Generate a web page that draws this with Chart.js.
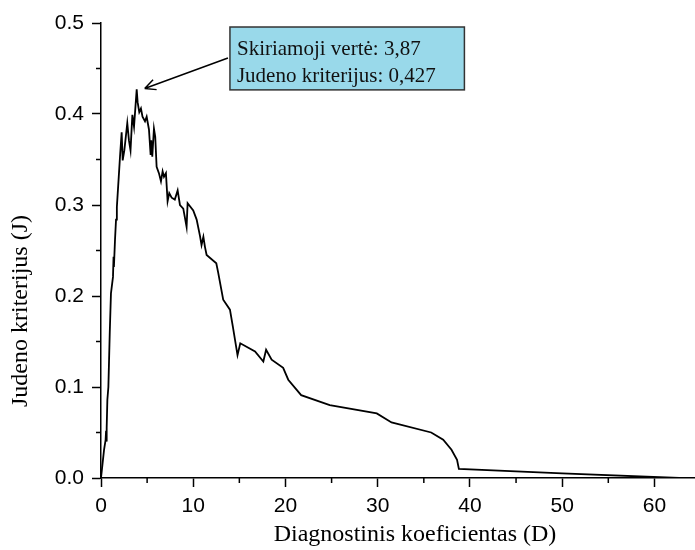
<!DOCTYPE html>
<html>
<head>
<meta charset="utf-8">
<script src="https://cdn.jsdelivr.net/npm/chart.js@4/dist/chart.umd.min.js"></script>
<style>
html,body{margin:0;padding:0;background:#fff;}
#wrap{width:695px;height:550px;position:relative;}
</style>
</head>
<body>
<div id="wrap"><canvas id="c" width="695" height="550"></canvas></div>
<script>
// ---- data ----
const dValues = [0, 0.33, 0.5, 0.55, 0.58, 0.65, 0.69, 0.8, 0.95, 1.08, 1.3, 1.36, 1.4, 1.52, 1.63, 1.72, 1.95, 2.06, 2.24, 2.35, 2.53, 2.85, 3.03, 3.2, 3.4, 3.58, 3.87, 3.97, 4.15, 4.33, 4.5, 4.77, 4.95, 5.2, 5.38, 5.45, 5.56, 5.74, 5.88, 6.03, 6.28, 6.5, 6.68, 6.83, 7.04, 7.22, 7.4, 7.66, 8.0, 8.31, 8.56, 8.92, 9.28, 9.39, 10.0, 10.37, 10.73, 10.9, 11.1, 11.27, 11.45, 12.5, 12.7, 13.25, 13.98, 14.3, 14.8, 15.1, 16.7, 17.6, 17.9, 18.5, 19.75, 20.3, 21.7, 24.8, 29.9, 31.5, 35.8, 37.1, 38.0, 38.6, 38.8, 50, 62.7, 64.4];
const jValues = [0, 0.031, 0.042, 0.052, 0.040, 0.055, 0.086, 0.100, 0.160, 0.203, 0.221, 0.243, 0.232, 0.262, 0.284, 0.298, 0.335, 0.353, 0.380, 0.349, 0.360, 0.390, 0.371, 0.360, 0.399, 0.386, 0.427, 0.413, 0.402, 0.406, 0.397, 0.392, 0.397, 0.383, 0.355, 0.371, 0.353, 0.384, 0.375, 0.342, 0.335, 0.326, 0.337, 0.331, 0.335, 0.304, 0.313, 0.308, 0.306, 0.316, 0.300, 0.296, 0.276, 0.302, 0.294, 0.284, 0.266, 0.256, 0.265, 0.254, 0.245, 0.236, 0.226, 0.196, 0.185, 0.166, 0.135, 0.148, 0.139, 0.128, 0.141, 0.130, 0.121, 0.108, 0.091, 0.080, 0.071, 0.061, 0.050, 0.042, 0.031, 0.020, 0.010, 0.005, 0.0, 0.0];
const xTickValues = [0, 10, 20, 30, 40, 50, 60];
const yTickValues = [0.0, 0.1, 0.2, 0.3, 0.4, 0.5];
const xTitle = 'Diagnostinis koeficientas (D)';
const yTitle = 'Judeno kriterijus (J)';
const peakD = 3.87;
const peakJ = 0.427;
const noteLines = ['Skiriamoji vertė: 3,87', 'Judeno kriterijus: 0,427'];

const points = dValues.map((d, i) => ({x: d, y: jValues[i]}));

const extras = {
  id: 'extras',
  afterDraw(chart) {
    const ctx = chart.ctx;
    const xs = chart.scales.x, ys = chart.scales.y;
    ctx.save();
    ctx.strokeStyle = '#000';
    ctx.lineWidth = 1.5;
    // minor ticks
    ctx.beginPath();
    for (let v = 5; v < 64; v += 10) {
      const px = xs.getPixelForValue(v);
      ctx.moveTo(px, xs.top); ctx.lineTo(px, xs.top + 5);
    }
    for (let v = 0.05; v < 0.5; v += 0.1) {
      const py = ys.getPixelForValue(v);
      ctx.moveTo(ys.right, py); ctx.lineTo(ys.right - 5, py);
    }
    ctx.stroke();

    // axis titles
    ctx.fillStyle = '#000';
    ctx.font = '24px "Liberation Serif", "Times New Roman", serif';
    ctx.textAlign = 'center';
    ctx.textBaseline = 'middle';
    ctx.fillText(xTitle, 415, 535);
    ctx.save();
    ctx.translate(21, 311);
    ctx.rotate(-Math.PI / 2);
    ctx.fillText(yTitle, 0, 0);
    ctx.restore();

    // annotation box
    const bx1 = xs.getPixelForValue(13.98), bx2 = xs.getPixelForValue(39.4);
    const by1 = ys.getPixelForValue(0.4956), by2 = ys.getPixelForValue(0.4265);
    ctx.fillStyle = '#99d9ea';
    ctx.fillRect(bx1, by1, bx2 - bx1, by2 - by1);
    ctx.strokeStyle = '#333';
    ctx.lineWidth = 1.5;
    ctx.strokeRect(bx1, by1, bx2 - bx1, by2 - by1);
    ctx.fillStyle = '#111';
    ctx.font = '21px "Liberation Serif", "Times New Roman", serif';
    ctx.textAlign = 'left';
    ctx.textBaseline = 'alphabetic';
    ctx.fillText(noteLines[0], bx1 + 7, by1 + 28);
    ctx.fillText(noteLines[1], bx1 + 7, by1 + 55);

    // arrow
    const tx = xs.getPixelForValue(peakD) + 8, ty = ys.getPixelForValue(peakJ) - 1;
    const sx = bx1 - 2, sy = by1 + 31;
    ctx.strokeStyle = '#000';
    ctx.lineWidth = 1.5;
    ctx.beginPath();
    ctx.moveTo(sx, sy); ctx.lineTo(tx, ty);
    const ang = Math.atan2(ty - sy, tx - sx);
    const L = 12, A = 0.45;
    ctx.moveTo(tx, ty);
    ctx.lineTo(tx - L * Math.cos(ang - A), ty - L * Math.sin(ang - A));
    ctx.moveTo(tx, ty);
    ctx.lineTo(tx - L * Math.cos(ang + A), ty - L * Math.sin(ang + A));
    ctx.stroke();
    ctx.restore();
  }
};

new Chart(document.getElementById('c'), {
  type: 'line',
  data: {
    datasets: [{
      data: points,
      borderColor: '#000',
      borderWidth: 1.8,
      pointRadius: 0,
      tension: 0,
      fill: false
    }]
  },
  options: {
    responsive: false,
    animation: false,
    layout: {padding: {top: 23, right: 0, left: 0, bottom: 0}},
    plugins: {legend: {display: false}, tooltip: {enabled: false}},
    scales: {
      x: {
        type: 'linear',
        min: 0, max: 64.4,
        afterFit(s) { s.height = 72; },
        afterBuildTicks(s) { s.ticks = xTickValues.map(v => ({value: v})); },
        grid: {drawOnChartArea: false, tickLength: 9, color: '#000', tickWidth: 1.5, tickColor: '#000'},
        border: {display: true, color: '#000', width: 1.5},
        ticks: {
          color: '#000', padding: 7, maxRotation: 0,
          font: {family: '"Liberation Sans", Arial, sans-serif', size: 21},
          callback: v => String(v)
        }
      },
      y: {
        min: 0, max: 0.5,
        afterFit(s) { s.width = 101; },
        afterBuildTicks(s) { s.ticks = yTickValues.map(v => ({value: v})); },
        grid: {drawOnChartArea: false, tickLength: 9, color: '#000', tickWidth: 1.5, tickColor: '#000'},
        border: {display: true, color: '#000', width: 1.5},
        ticks: {
          color: '#000', padding: 8,
          font: {family: '"Liberation Sans", Arial, sans-serif', size: 21},
          callback: v => Number(v).toFixed(1)
        }
      }
    }
  },
  plugins: [extras]
});
</script>
</body>
</html>
